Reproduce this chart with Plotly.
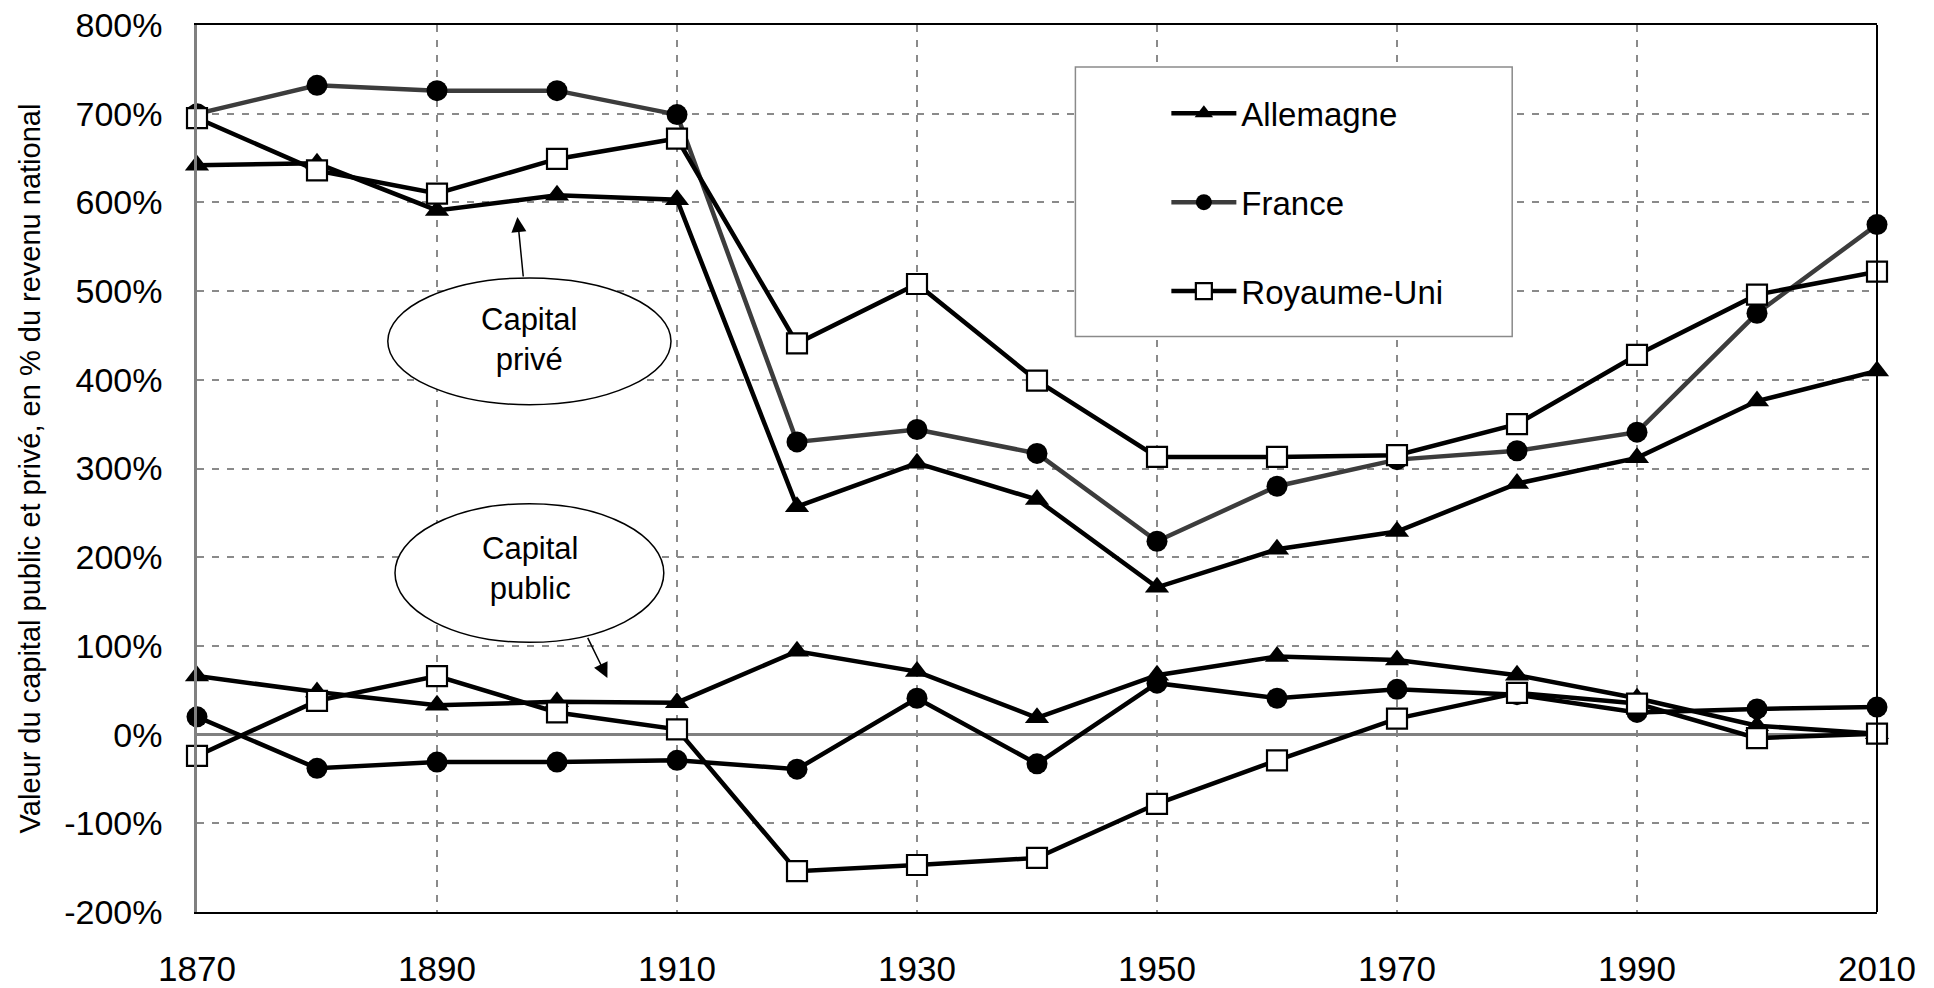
import plotly.graph_objects as go

# ---------------- data ----------------
YEARS = [1870, 1880, 1890, 1900, 1910, 1920, 1930, 1940, 1950, 1960, 1970, 1980, 1990, 2000, 2010]

GERMANY_PRIVATE = [642, 644, 591, 608, 603, 257, 306, 265, 166, 209, 229, 283, 312, 376, 410]
FRANCE_PRIVATE = [700, 732, 726, 726, 699, 330, 344, 317, 218, 280, 310, 320, 341, 475, 575]
UK_PRIVATE = [695, 636, 610, 649, 672, 441, 508, 399, 313, 313, 315, 350, 428, 496, 522]

GERMANY_PUBLIC = [66, 48, 33, 37, 36, 94, 71, 19, 67, 88, 84, 67, 41, 10, 1]
FRANCE_PUBLIC = [20, -38, -31, -31, -29, -39, 41, -33, 58, 41, 51, 45, 25, 29, 31]
UK_PUBLIC = [-24, 38, 66, 25, 6, -154, -147, -139, -78, -29, 18, 47, 35, -4, 1]

SERIES_NAMES = ["Allemagne", "France", "Royaume-Uni"]

X_TICKS = [1870, 1890, 1910, 1930, 1950, 1970, 1990, 2010]
Y_TICKS = [-200, -100, 0, 100, 200, 300, 400, 500, 600, 700, 800]
Y_TICK_LABELS = [f"{v}%" for v in Y_TICKS]

Y_TITLE = "Valeur du capital public et privé, en % du revenu national"

FONT = "Liberation Sans, Arial, sans-serif"

# ---------------- figure ----------------
fig = go.Figure()

styles = {
    "Allemagne": dict(symbol="triangle-up", size=21, color="black",
                      line=dict(width=0, color="black")),
    "France": dict(symbol="circle", size=21, color="black",
                   line=dict(width=0, color="black")),
    "Royaume-Uni": dict(symbol="square", size=20, color="white",
                        line=dict(width=2.2, color="black")),
}

private_series = [GERMANY_PRIVATE, FRANCE_PRIVATE, UK_PRIVATE]
public_series = [GERMANY_PUBLIC, FRANCE_PUBLIC, UK_PUBLIC]
private_line_colors = ["black", "#3c3c3c", "black"]

for name, vals, lc in zip(SERIES_NAMES, private_series, private_line_colors):
    fig.add_trace(go.Scatter(
        x=YEARS, y=vals, mode="lines+markers", name=name,
        legendgroup=name, showlegend=True,
        line=dict(color=lc, width=4.5),
        marker=styles[name],
        cliponaxis=False,
    ))

for name, vals in zip(SERIES_NAMES, public_series):
    fig.add_trace(go.Scatter(
        x=YEARS, y=vals, mode="lines+markers", name=name + " (public)",
        legendgroup=name, showlegend=False,
        line=dict(color="black", width=4.5),
        marker=styles[name],
        cliponaxis=False,
    ))

grid = dict(showgrid=True, gridcolor="#8a8a8a", gridwidth=2, griddash="7px,8px")

fig.update_xaxes(
    range=[1870, 2010], tickvals=X_TICKS, ticktext=[str(v) for v in X_TICKS],
    tickfont=dict(family=FONT, size=35, color="black"),
    ticks="", ticklabelstandoff=25, automargin=False, ticklabeloverflow="allow",
    showline=True, linecolor="black", linewidth=2, mirror=True,
    zeroline=False, **grid,
)
fig.update_yaxes(
    range=[-200, 800], tickvals=Y_TICKS, ticktext=Y_TICK_LABELS,
    tickfont=dict(family=FONT, size=34, color="black"),
    ticks="", ticklabelstandoff=25, automargin=False, ticklabeloverflow="allow",
    showline=True, linecolor="#808080", linewidth=2.5, mirror=False,
    zeroline=True, zerolinecolor="#808080", zerolinewidth=2.5,
    title=dict(text=Y_TITLE, font=dict(family=FONT, size=29, color="black"), standoff=16),
    **grid,
)

shapes = [
    # right border of the plot area
    dict(type="line", xref="x domain", yref="y domain", x0=1, x1=1, y0=0, y1=1,
         line=dict(color="black", width=2), layer="above"),
    # legend frame
    dict(type="rect", xref="x", yref="y", x0=1943.2, x1=1979.6, y0=448.9, y1=752.6,
         line=dict(color="#8a8a8a", width=1.5), fillcolor="white", layer="above"),
    # ellipse "Capital privé"
    dict(type="circle", xref="x", yref="y", x0=1885.9, x1=1909.5, y0=371.9, y1=514.8,
         line=dict(color="black", width=1.5), fillcolor="white", layer="above"),
    # ellipse "Capital public"
    dict(type="circle", xref="x", yref="y", x0=1886.5, x1=1908.9, y0=104.0, y1=260.3,
         line=dict(color="black", width=1.5), fillcolor="white", layer="above"),
]

annotations = [
    dict(x=1897.7, y=445, xref="x", yref="y", text="Capital<br>privé", showarrow=False,
         font=dict(family=FONT, size=31, color="black"), align="center"),
    dict(x=1897.8, y=187.6, xref="x", yref="y", text="Capital<br>public", showarrow=False,
         font=dict(family=FONT, size=31, color="black"), align="center"),
    dict(x=1896.7, y=583.5, ax=1897.2, ay=514.8, xref="x", yref="y", axref="x", ayref="y",
         text="", showarrow=True, arrowhead=2, arrowsize=2, arrowwidth=1.5,
         arrowcolor="black", standoff=0, startstandoff=0),
    dict(x=1904.2, y=63.8, ax=1902.5, ay=110.7, xref="x", yref="y", axref="x", ayref="y",
         text="", showarrow=True, arrowhead=2, arrowsize=2, arrowwidth=1.5,
         arrowcolor="black", standoff=0, startstandoff=0),
]

# the page body has an 8px margin, so the figure starts at (8, 8)
fig.update_layout(
    width=1934, height=988,
    margin=dict(l=189, r=65, t=17, b=84, autoexpand=False),
    paper_bgcolor="white", plot_bgcolor="white",
    font=dict(family=FONT, color="black"),
    shapes=shapes, annotations=annotations,
    showlegend=True,
    legend=dict(
        x=0.577, y=0.932, xanchor="left", yanchor="top",
        bgcolor="rgba(0,0,0,0)", borderwidth=0,
        font=dict(family=FONT, size=33, color="black"),
        traceorder="grouped", tracegroupgap=43,
        itemwidth=65, itemsizing="trace",
    ),
    hovermode=False,
)

fig.write_html("out.html")
